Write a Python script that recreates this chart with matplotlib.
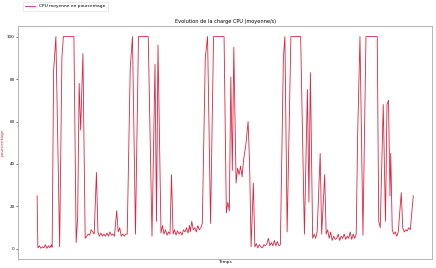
import matplotlib
matplotlib.use("Agg")
from matplotlib import pyplot as plt

# temps (s) et charge CPU moyenne (%)
temps = [0, 1, 3, 5, 7, 9, 11, 13, 15, 17, 19, 20, 22, 25, 30, 33, 35, 49, 52, 54,
         56, 58, 61, 64, 66, 68, 70, 72, 74, 76, 79, 81, 83, 85, 87, 89, 91, 93, 95, 97,
         99, 101, 103, 106, 108, 110, 112, 114, 116, 118, 120, 124, 127, 131, 135, 148, 153, 157, 159, 161,
         165, 167, 169, 171, 173, 175, 177, 179, 181, 183, 185, 187, 189, 191, 193, 195, 197, 199, 201, 203,
         204, 206, 208, 210, 212, 214, 216, 218, 220, 224, 227, 231, 235, 249, 252, 254, 256, 258, 260, 262,
         265, 267, 269, 271, 273, 275, 278, 281, 283, 285, 288, 290, 292, 294, 296, 298, 300, 302, 304, 306,
         308, 310, 312, 314, 316, 318, 320, 322, 324, 328, 330, 333, 338, 351, 356, 360, 362, 364, 367, 369,
         371, 373, 377, 379, 383, 385, 387, 389, 391, 393, 395, 397, 399, 401, 403, 405, 407, 409, 411, 413,
         415, 417, 419, 421, 423, 425, 427, 430, 434, 438, 453, 455, 457, 461, 464, 466, 468, 470, 471, 473,
         475, 477, 479, 481, 485, 487, 489, 491, 493, 495, 497, 501]

cpu = [25, 0.5, 1.5, 0.3, 1, 0.5, 2, 0.3, 1.5, 0.5, 2, 0.8, 84, 100, 1, 90, 100, 100, 3, 15,
       78, 56, 92, 5, 6, 7, 6.5, 9, 8, 7, 36, 8, 6, 7.5, 6, 7, 6, 7.5, 6, 8,
       6.5, 7, 6, 18, 8, 10, 6, 7, 6, 7, 7, 85, 100, 7, 100, 100, 6, 87, 13, 96,
       7.5, 11, 7, 9, 6.5, 8, 7, 35, 7, 9, 6.5, 8.5, 7, 8, 6.5, 9, 8, 10, 7.5, 11,
       8, 13, 9, 10, 8, 11, 9, 10, 12, 90, 100, 12, 100, 100, 17, 22, 18, 81, 37, 95,
       31, 38, 35, 39, 34, 42, 49, 60, 40, 1, 31, 1, 2.5, 0.5, 2, 1, 0.5, 2, 1.5, 2.5,
       5, 1.5, 3, 1.5, 4, 1.5, 3.5, 1.5, 2, 90, 100, 8, 100, 100, 7, 75, 22, 83, 5, 7,
       5, 8, 45, 7, 35, 7, 9, 5, 8, 4, 6, 4.5, 5, 7, 4, 6, 5, 7, 4.5, 6,
       5, 8, 4.5, 7, 5, 7, 55, 100, 6.5, 100, 100, 13, 10, 68, 13, 68, 70, 25, 45, 9,
       7, 8, 6, 8, 26.5, 10, 8, 9, 8.5, 10, 9, 25]

couleur = '#e0243f'

fig = plt.figure(figsize=(4.36, 2.68), dpi=100)
ax = fig.add_axes([0.042, 0.034, 0.949, 0.869])

ax.plot(temps, cpu, color=couleur, linewidth=0.6, label='CPU moyenne en pourcentage')

ax.set_title('Evolution de la charge CPU (moyenne/s)', fontsize=3.6, pad=2)
ax.set_xlabel('Temps', fontsize=3.2, labelpad=1)
ax.set_ylabel('pourcentage', fontsize=3.2, color=couleur, labelpad=2)
ax.set_xticks([])
ax.set_yticks([0, 20, 40, 60, 80, 100])
ax.tick_params(axis='y', labelsize=3, length=1.5, width=0.4, pad=1)

for sp in ax.spines.values():
    sp.set_color('#aaaaaa')
    sp.set_linewidth(0.6)

ax.legend(loc='lower left', bbox_to_anchor=(0.005, 1.055), fontsize=3.2,
          frameon=True, edgecolor='#dddddd', fancybox=False, handlelength=2.2,
          borderpad=0.6, framealpha=1).get_frame().set_linewidth(0.4)

fig.savefig('out.png', dpi=100)
